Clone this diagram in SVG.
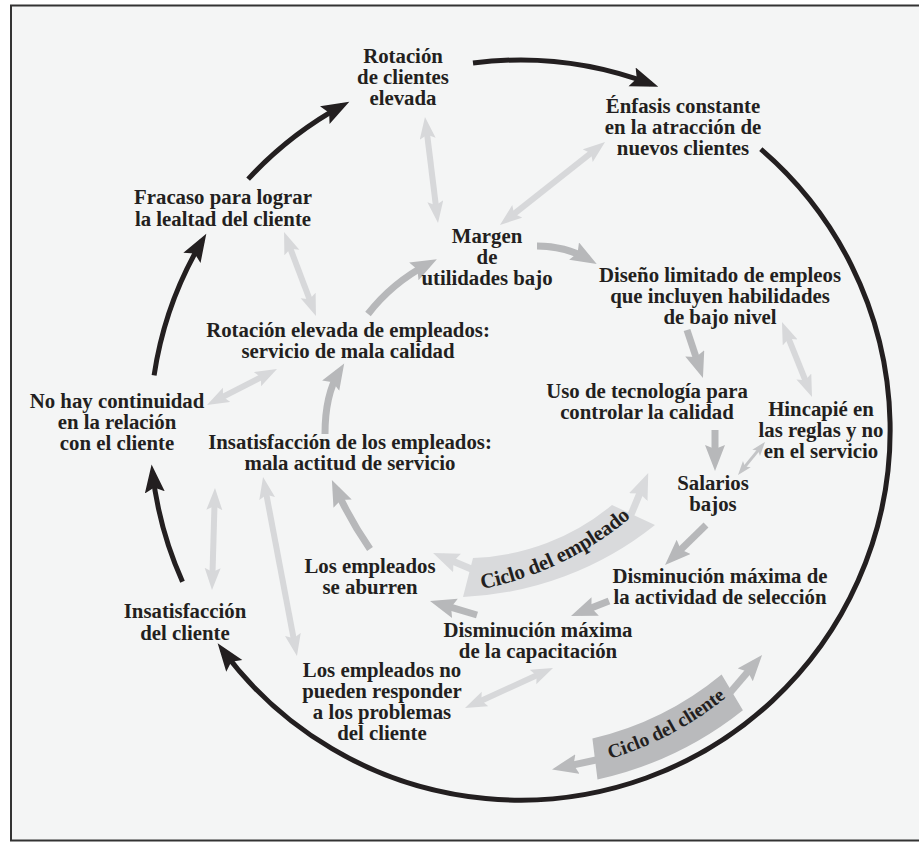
<svg xmlns="http://www.w3.org/2000/svg" width="919" height="842" viewBox="0 0 919 842">
<style>
.t{font-family:"Liberation Serif","Times New Roman",serif;font-weight:bold;font-size:20.8px;fill:#231f20;text-anchor:middle}
.bt{font-family:"Liberation Serif","Times New Roman",serif;font-weight:bold;fill:#231f20}
.blk{fill:none;stroke:#231f20;stroke-width:5;marker-end:url(#mb)}
.med{fill:none;stroke:#b7b8ba;stroke-width:7;marker-end:url(#mm)}
.lt{fill:none;stroke:#d7d8da;stroke-width:6;marker-start:url(#ml);marker-end:url(#ml)}
.sm{fill:none;stroke:#c4c5c7;stroke-width:3;marker-start:url(#ms);marker-end:url(#ms)}
.eb{fill:none;stroke:#d9dadc;stroke-width:7;marker-end:url(#me)}
.cb{fill:none;stroke:#b9babc;stroke-width:7;marker-end:url(#mc)}
</style>
<defs>
<marker id="mb" markerUnits="userSpaceOnUse" markerWidth="30" markerHeight="22" refX="20" refY="10" orient="auto"><path d="M0,0 L28,10 L0,20 L5,10 Z" fill="#231f20"/></marker>
<marker id="mm" markerUnits="userSpaceOnUse" markerWidth="28" markerHeight="22" refX="16" refY="10" orient="auto"><path d="M0,0 L26,10 L0,20 L4,10 Z" fill="#b7b8ba"/></marker>
<marker id="ml" markerUnits="userSpaceOnUse" markerWidth="24" markerHeight="18" refX="12" refY="8" orient="auto-start-reverse"><path d="M0,0 L22,8 L0,16 L4,8 Z" fill="#d7d8da"/></marker>
<marker id="ms" markerUnits="userSpaceOnUse" markerWidth="16" markerHeight="12" refX="8" refY="5" orient="auto-start-reverse"><path d="M0,0 L14,5 L0,10 L3,5 Z" fill="#c4c5c7"/></marker>
<marker id="me" markerUnits="userSpaceOnUse" markerWidth="28" markerHeight="22" refX="16" refY="10" orient="auto"><path d="M0,0 L26,10 L0,20 L4,10 Z" fill="#d9dadc"/></marker>
<marker id="mc" markerUnits="userSpaceOnUse" markerWidth="28" markerHeight="22" refX="16" refY="10" orient="auto"><path d="M0,0 L26,10 L0,20 L4,10 Z" fill="#b9babc"/></marker>
</defs>
<rect x="0" y="0" width="919" height="842" fill="#ffffff"/>
<rect x="11" y="5.5" width="920" height="835" fill="#f4f5f5" stroke="#333333" stroke-width="2"/>

<g id="connectors">
<path class="blk" d="M473,63 A370,370 0 0 1 650.8,83.9"/>
<path class="blk" d="M760.8,149.1 A370,370 0 1 1 222.4,649.8"/>
<path class="blk" d="M182.5,581.7 A370,370 0 0 1 152.5,472.5"/>
<path class="blk" d="M154.1,375.3 A370,370 0 0 1 202.2,240.6"/>
<path class="blk" d="M248.1,179.1 A370,370 0 0 1 342.3,105.5"/>
<path class="med" d="M368,314 Q392,283 428,264"/>
<path class="med" d="M537,246 Q565,246 588,259"/>
<path class="med" d="M687,330 L699.8,368.5"/>
<path class="med" d="M715,430 L715,461"/>
<path class="med" d="M706,525 L672.2,558"/>
<path class="med" d="M609,601 L580.3,612.3"/>
<path class="med" d="M477,615 L439.6,603.9"/>
<path class="med" d="M370,549 Q350,520 336,489"/>
<path class="med" d="M325,434 Q325,395 339,372"/>
<path class="lt" d="M426.2,126.9 L436.8,213.1"/>
<path class="lt" d="M597.2,148.2 L507.8,218.8"/>
<path class="lt" d="M287.6,241.3 L312.4,306.7"/>
<path class="lt" d="M215.9,400.4 L268.1,373.6"/>
<path class="lt" d="M214.7,498 L212.3,580"/>
<path class="lt" d="M264.9,486.8 L295.1,646.2"/>
<path class="lt" d="M474.1,703.9 L543.9,672.1"/>
<path class="lt" d="M785.7,331.3 L808.3,387.7"/>
<path class="sm" d="M761.2,446.6 L741.8,470.4"/>
</g>

<g id="ciclo-empleado">
<path class="eb" d="M476,571 L442.3,556.8"/>
<path class="eb" d="M630,517 L644.4,482.3"/>
<path d="M463,597 A330,330 0 0 0 655,525 L612,505 A230,230 0 0 1 473,558 Z" fill="#d9dadc"/>
<path id="tpE" d="M482,589 A330,330 0 0 0 650,500" fill="none"/>
<text class="bt" font-size="21" letter-spacing="-0.2"><textPath href="#tpE">Ciclo del empleado</textPath></text>
</g>

<g id="ciclo-cliente">
<path class="cb" d="M596,760 L561.8,767.3"/>
<path class="cb" d="M728,695 L755.6,662.7"/>
<path d="M597.5,779.5 A358,358 0 0 0 742.9,710.2 L721.6,674.6 A317,317 0 0 1 592.4,738.6 Z" fill="#b9babc"/>
<path id="tpC" d="M610,759 A341,341 0 0 0 735,690" fill="none"/>
<text class="bt" font-size="19.5"><textPath href="#tpC">Ciclo del cliente</textPath></text>
</g>

<g id="n-rotacion-clientes"><text class="t"><tspan x="403" y="63">Rotación</tspan><tspan x="403" y="84">de clientes</tspan><tspan x="403" y="105">elevada</tspan></text></g>
<g id="n-enfasis"><text class="t"><tspan x="683" y="113">Énfasis constante</tspan><tspan x="683" y="134">en la atracción de</tspan><tspan x="683" y="155">nuevos clientes</tspan></text></g>
<g id="n-fracaso"><text class="t"><tspan x="223" y="204">Fracaso para lograr</tspan><tspan x="223" y="225.5">la lealtad del cliente</tspan></text></g>
<g id="n-margen"><text class="t"><tspan x="487" y="243">Margen</tspan><tspan x="487" y="264">de</tspan><tspan x="487" y="285">utilidades bajo</tspan></text></g>
<g id="n-diseno"><text class="t"><tspan x="720" y="282">Diseño limitado de empleos</tspan><tspan x="720" y="303">que incluyen habilidades</tspan><tspan x="720" y="324">de bajo nivel</tspan></text></g>
<g id="n-rotacion-empleados"><text class="t"><tspan x="348" y="337">Rotación elevada de empleados:</tspan><tspan x="348" y="358">servicio de mala calidad</tspan></text></g>
<g id="n-continuidad"><text class="t"><tspan x="117" y="408">No hay continuidad</tspan><tspan x="117" y="429">en la relación</tspan><tspan x="117" y="450">con el cliente</tspan></text></g>
<g id="n-insat-empleados"><text class="t"><tspan x="350" y="449">Insatisfacción de los empleados:</tspan><tspan x="350" y="470">mala actitud de servicio</tspan></text></g>
<g id="n-tecnologia"><text class="t"><tspan x="647" y="398">Uso de tecnología para</tspan><tspan x="647" y="419">controlar la calidad</tspan></text></g>
<g id="n-hincapie"><text class="t"><tspan x="821" y="416">Hincapié en</tspan><tspan x="821" y="437">las reglas y no</tspan><tspan x="821" y="458">en el servicio</tspan></text></g>
<g id="n-salarios"><text class="t"><tspan x="713" y="490">Salarios</tspan><tspan x="713" y="511">bajos</tspan></text></g>
<g id="n-aburren"><text class="t"><tspan x="370" y="573">Los empleados</tspan><tspan x="370" y="594">se aburren</tspan></text></g>
<g id="n-seleccion"><text class="t"><tspan x="720" y="583">Disminución máxima de</tspan><tspan x="720" y="604">la actividad de selección</tspan></text></g>
<g id="n-capacitacion"><text class="t"><tspan x="538" y="637">Disminución máxima</tspan><tspan x="538" y="658">de la capacitación</tspan></text></g>
<g id="n-insat-cliente"><text class="t"><tspan x="185" y="618">Insatisfacción</tspan><tspan x="185" y="640">del cliente</tspan></text></g>
<g id="n-no-responder"><text class="t"><tspan x="382" y="677">Los empleados no</tspan><tspan x="382" y="698">pueden responder</tspan><tspan x="382" y="719">a los problemas</tspan><tspan x="382" y="740">del cliente</tspan></text></g>
</svg>
